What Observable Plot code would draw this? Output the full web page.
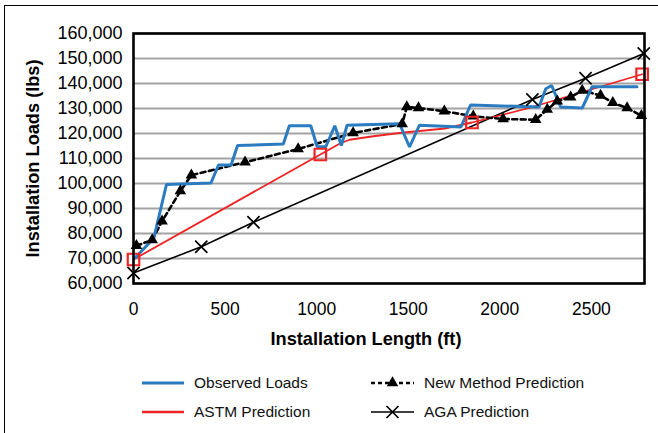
<!DOCTYPE html>
<html><head><meta charset="utf-8">
<script src="https://cdn.jsdelivr.net/npm/d3@7"></script>
<script src="https://cdn.jsdelivr.net/npm/@observablehq/plot@0.6"></script>
<style>
body{margin:0;background:#fff;font-family:"Liberation Sans",Arial,Helvetica,sans-serif;}
#wrap{position:relative;width:658px;height:433px;overflow:hidden;background:#fff;}
#border{position:absolute;left:4px;top:5px;width:720px;height:520px;border:1.5px solid #000;box-sizing:border-box;}
#chart{position:absolute;left:0;top:0;}
g[aria-label="x-axis label"] text, g[aria-label="y-axis label"] text{font-weight:bold;font-size:18.2px;}
g[aria-label="y-axis tick label"]{font-size:18px;}
.leg{position:absolute;display:flex;align-items:center;font-size:15.5px;color:#111;white-space:nowrap;}
.leg svg{margin-right:10px;}
</style></head>
<body>
<div id="wrap"><div id="border"></div><div id="chart"></div><div id="legend"></div></div>
<script>
// ---- data ----
const xTicks = [0, 500, 1000, 1500, 2000, 2500];
const yTicks = [60000, 70000, 80000, 90000, 100000, 110000, 120000, 130000, 140000, 150000, 160000];

const obsLength = [11, 111, 180, 423, 464, 533, 568, 818, 851, 968, 1003, 1050, 1099, 1135, 1166, 1453, 1507, 1561, 1788, 1840, 2214, 2251, 2283, 2332, 2450, 2504, 2749];
const obsLoad   = [70400, 78200, 99600, 100200, 107400, 107400, 115200, 115800, 123100, 123100, 114700, 114700, 123100, 115200, 123300, 123900, 114600, 123300, 122600, 131400, 130600, 137900, 139200, 130600, 130200, 138700, 138700];

const newLength = [16, 102, 156, 256, 316, 609, 899, 1199, 1467, 1492, 1556, 1697, 1855, 2018, 2196, 2259, 2314, 2387, 2450, 2550, 2617, 2695, 2773];
const newLoad   = [75100, 77400, 84900, 97000, 103300, 108500, 113800, 120200, 123800, 130600, 130200, 128900, 126900, 125800, 125500, 129600, 132900, 134500, 137200, 135200, 132300, 130200, 127100];

const astmLength = [0, 1020, 1130, 1180, 1300, 1450, 1700, 1848, 2160, 2777];
const astmLoad   = [69600, 111600, 116100, 117500, 118800, 120200, 122000, 124400, 130200, 143700];
const astmMarkerIdx = [0, 1, 7, 9];

const agaLength = [0, 370, 655, 2178, 2468, 2786];
const agaLoad   = [64200, 74700, 84500, 133600, 142100, 152000];

const seriesNames = ["Observed Loads", "ASTM Prediction", "New Method Prediction", "AGA Prediction"];
const colors = {obs: "#2a7bc0", astm: "#ee2424", black: "#000"};

// ---- tables ----
const zip = (xs, ys) => xs.map((x, i) => ({x, y: ys[i]}));
const obs = zip(obsLength, obsLoad);
const nm = zip(newLength, newLoad);
const astm = zip(astmLength, astmLoad);
const astmMarks = astmMarkerIdx.map(i => astm[i]);
const aga = zip(agaLength, agaLoad);

const plot = Plot.plot({
  width: 658, height: 355,
  marginTop: 33, marginLeft: 133, marginRight: 14, marginBottom: 72,
  style: {fontFamily: "'Liberation Sans', Arial, Helvetica, sans-serif", fontSize: "17.5px", color: "#000", background: "transparent", overflow: "visible"},
  x: {domain: [0, 2790], ticks: xTicks, tickFormat: d => String(d), label: "Installation Length (ft)", labelAnchor: "center", labelArrow: "none", labelOffset: 58, tickSize: 0, tickPadding: 19},
  y: {domain: [60000, 160000], ticks: yTicks, tickFormat: d3.format(","), label: "Installation Loads (lbs)", labelAnchor: "center", labelArrow: "none", labelOffset: 107, tickSize: 0, tickPadding: 11},
  marks: [
    Plot.ruleY(yTicks, {stroke: "#a3a3a3", strokeWidth: 2}),
    Plot.line(aga, {x: "x", y: "y", stroke: colors.black, strokeWidth: 1.6}),
    Plot.line(astm, {x: "x", y: "y", stroke: colors.astm, strokeWidth: 1.8}),
    Plot.line(nm, {x: "x", y: "y", stroke: colors.black, strokeWidth: 2.6, strokeDasharray: "5,3.5"}),
    Plot.line(obs, {x: "x", y: "y", stroke: colors.obs, strokeWidth: 3, strokeLinejoin: "miter"}),
    Plot.dot(nm, {x: "x", y: "y", symbol: "triangle", r: 4.3, fill: colors.black, stroke: "none"}),
    Plot.dot(aga, {x: "x", y: "y", symbol: "times", r: 5.6, stroke: colors.black, strokeWidth: 1.7}),
    Plot.dot(astmMarks, {x: "x", y: "y", symbol: "square", r: 6.5, stroke: colors.astm, strokeWidth: 2.2, fill: "none"}),
    Plot.frame({stroke: "#000", strokeWidth: 2.6})
  ]
});
// x title is centred on the whole chart (Excel-style), not on the plotting frame
const xl = plot.querySelector('g[aria-label="x-axis label"]');
if (xl) xl.setAttribute("transform", (xl.getAttribute("transform") || "") + " translate(-23,3)");
document.getElementById("chart").appendChild(plot);

// ---- legend ----
const swatches = [
  `<svg width="42" height="14"><line x1="0" y1="7" x2="42" y2="7" stroke="${colors.obs}" stroke-width="3"/></svg>`,
  `<svg width="42" height="14"><line x1="0" y1="7" x2="42" y2="7" stroke="${colors.astm}" stroke-width="2.4"/></svg>`,
  `<svg width="43" height="16"><line x1="0" y1="8" x2="43" y2="8" stroke="#000" stroke-width="2.4" stroke-dasharray="4,3"/><path d="${d3.symbol(d3.symbolTriangle, 58)()}" transform="translate(21.5,8)" fill="#000"/></svg>`,
  `<svg width="43" height="16"><line x1="0" y1="8" x2="43" y2="8" stroke="#000" stroke-width="1.6"/><path d="${d3.symbol(d3.symbolTimes, 95)()}" transform="translate(21.5,8)" stroke="#000" stroke-width="1.7" fill="none"/></svg>`
];
const pos = [[142, 383], [142, 412], [371, 383], [371, 412]];
const leg = document.getElementById("legend");
seriesNames.forEach((name, i) => {
  const d = document.createElement("div");
  d.className = "leg";
  d.style.left = pos[i][0] + "px";
  d.style.top = (pos[i][1] - 10) + "px";
  d.style.height = "20px";
  d.innerHTML = swatches[i] + `<span>${name}</span>`;
  leg.appendChild(d);
});
</script>
</body></html>
